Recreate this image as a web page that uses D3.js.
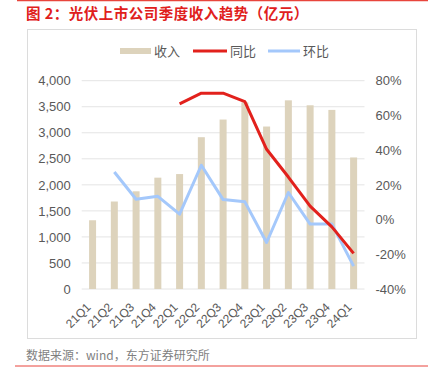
<!DOCTYPE html>
<html>
<head>
<meta charset="utf-8">
<script src="https://cdn.jsdelivr.net/npm/d3@7"></script>
<style>
  body { margin: 0; background: #fff; }
  svg { display: block; font-family: "Liberation Sans", "Noto Sans CJK SC", sans-serif; }
  .title { text-spacing-trim: space-all; }
</style>
</head>
<body>
<div id="chart"></div>
<script>
const quarters = ['21Q1', '21Q2', '21Q3', '21Q4', '22Q1', '22Q2', '22Q3', '22Q4', '23Q1', '23Q2', '23Q3', '23Q4', '24Q1'];
const revenue = [1320, 1680, 1876, 2138, 2207, 2915, 3254, 3585, 3120, 3623, 3528, 3439, 2526];
const yoy = [null, null, null, null, 66.7, 72.8, 72.8, 68.0, 40.5, 24.5, 7.7, -4.2, -19.5];
const qoq = [null, 27.4, 11.7, 13.4, 3.1, 31.3, 11.5, 10.2, -13.2, 15.6, -2.6, -2.6, -26.8];
const leftTicks = [0, 500, 1000, 1500, 2000, 2500, 3000, 3500, 4000];
const rightTicks = [-40, -20, 0, 20, 40, 60, 80];

const W = 431, H = 379;
const plot = { left: 81.7, right: 364.5, top: 80.7, bottom: 289 };

const svg = d3.select('#chart').append('svg')
    .attr('width', W)
    .attr('height', H);

// red rules + title + frame
svg.append('line').attr('x1', 17).attr('x2', 428).attr('y1', 0.5).attr('y2', 0.5)
    .attr('stroke', '#e8453c').attr('stroke-width', 1.5);
svg.append('text').attr('class', 'title').attr('x', 26).attr('y', 18.5)
    .attr('fill', '#e0201c').attr('font-size', 14.5).attr('font-weight', 'bold')
    .attr('letter-spacing', 0.5)
    .attr('font-family', '"Noto Sans CJK SC", sans-serif')
    .text('图 2：光伏上市公司季度收入趋势（亿元）');
svg.append('rect').attr('x', 27.5).attr('y', 29.5).attr('width', 389).attr('height', 309)
    .attr('fill', 'none').attr('stroke', '#dcdcdc');
svg.append('text').attr('x', 26).attr('y', 360)
    .attr('fill', '#7f7f7f').attr('font-size', 12)
    .attr('font-family', '"Noto Sans CJK SC", sans-serif')
    .text('数据来源：wind，东方证券研究所');
svg.append('line').attr('x1', 15).attr('x2', 428).attr('y1', 366).attr('y2', 366)
    .attr('stroke', '#e8453c').attr('stroke-width', 1);

const x = d3.scaleBand().domain(quarters).range([plot.left, plot.right]);
const yL = d3.scaleLinear().domain([0, 4000]).range([plot.bottom, plot.top]);
const yR = d3.scaleLinear().domain([-40, 80]).range([plot.bottom, plot.top]);

// gridlines
svg.append('g').selectAll('line').data(leftTicks).join('line')
    .attr('x1', plot.left).attr('x2', plot.right)
    .attr('y1', d => yL(d)).attr('y2', d => yL(d))
    .attr('stroke', '#e4e4e4').attr('stroke-width', 1);

// left axis
const axL = svg.append('g').attr('transform', `translate(${plot.left},0)`)
    .call(d3.axisLeft(yL).tickValues(leftTicks).tickFormat(d3.format(',')).tickSize(0).tickPadding(11));
axL.select('.domain').remove();
axL.selectAll('text').attr('font-size', 13).attr('fill', '#595959')
    .attr('font-family', '"Liberation Sans", sans-serif');

// right axis
const axR = svg.append('g').attr('transform', `translate(${plot.right},0)`)
    .call(d3.axisRight(yR).tickValues(rightTicks).tickFormat(d => d + '%').tickSize(0).tickPadding(11));
axR.select('.domain').remove();
axR.selectAll('text').attr('font-size', 13).attr('fill', '#595959')
    .attr('font-family', '"Liberation Sans", sans-serif');

// bars
const barW = 7;
svg.append('g').selectAll('rect').data(revenue).join('rect')
    .attr('x', (d, i) => x(quarters[i]) + x.bandwidth() / 2 - barW / 2)
    .attr('width', barW)
    .attr('y', d => yL(d))
    .attr('height', d => yL(0) - yL(d))
    .attr('fill', '#ddd3bc');

// x labels
svg.append('g').selectAll('text').data(quarters).join('text')
    .attr('transform', d => `translate(${x(d) + x.bandwidth() / 2 - 4},${plot.bottom + 16}) rotate(-45)`)
    .attr('text-anchor', 'end')
    .attr('dy', '0.35em')
    .attr('font-size', 12).attr('fill', '#595959')
    .attr('font-family', '"Liberation Sans", sans-serif')
    .text(d => d);

// lines
const line = d3.line()
    .defined(d => d != null)
    .x((d, i) => x(quarters[i]) + x.bandwidth() / 2)
    .y(d => yR(d));

svg.append('path').datum(qoq)
    .attr('d', line)
    .attr('fill', 'none').attr('stroke', '#a4c8fb').attr('stroke-width', 3)
    .attr('stroke-linejoin', 'round');
svg.append('path').datum(yoy)
    .attr('d', line)
    .attr('fill', 'none').attr('stroke', '#e2211c').attr('stroke-width', 3)
    .attr('stroke-linejoin', 'round');

// legend
const legendItems = [
    { name: '收入', color: '#ddd3bc', x: 120, w: 31, h: 6 },
    { name: '同比', color: '#e2211c', x: 193, w: 34, h: 3 },
    { name: '环比', color: '#a4c8fb', x: 268, w: 32, h: 3 }
];
const lg = svg.append('g').selectAll('g').data(legendItems).join('g');
lg.append('rect')
    .attr('x', d => d.x).attr('y', d => 51 - d.h / 2)
    .attr('width', d => d.w).attr('height', d => d.h)
    .attr('fill', d => d.color);
lg.append('text')
    .attr('x', d => d.x + d.w + 3).attr('y', 51).attr('dy', '0.36em')
    .attr('font-size', 13).attr('fill', '#595959')
    .attr('font-family', '"Noto Sans CJK SC", sans-serif')
    .text(d => d.name);
</script>
</body>
</html>
